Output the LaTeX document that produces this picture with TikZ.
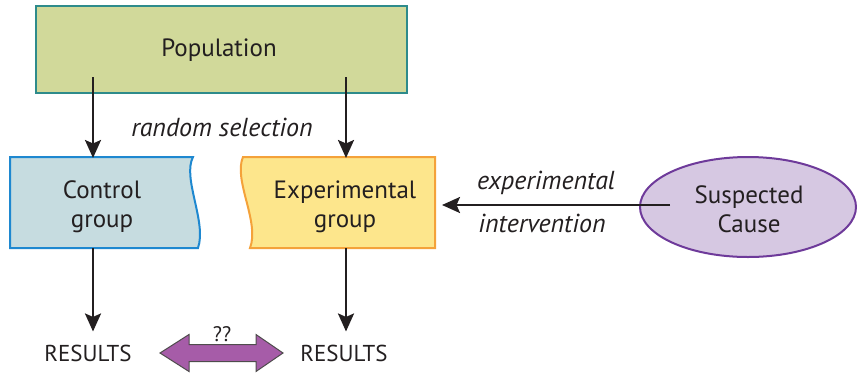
\documentclass[tikz,border=0pt]{standalone}
\usepackage{fontspec}
\setmainfont{PT Sans}
\usetikzlibrary{arrows.meta,shapes.geometric,calc}

\definecolor{popfill}{HTML}{D1D99A}
\definecolor{popline}{HTML}{2E8B8B}
\definecolor{ctrlfill}{HTML}{C6DCE0}
\definecolor{ctrlline}{HTML}{1E88D0}
\definecolor{expfill}{HTML}{FDE68C}
\definecolor{expline}{HTML}{F4A23A}
\definecolor{causefill}{HTML}{D6C8E2}
\definecolor{causeline}{HTML}{6E3A9A}
\definecolor{linkfill}{HTML}{A65CA8}
\definecolor{ink}{HTML}{231F20}

\tikzset{
  label text/.style={font=\fontsize{25}{29}\selectfont, text=ink, inner sep=0pt, align=center},
  note text/.style={font=\fontsize{26}{30}\selectfont\itshape, text=ink, inner sep=0pt},
  result text/.style={font=\fontsize{23}{27}\selectfont, text=ink, inner sep=0pt},
  flow/.style={draw=ink, line width=2.5pt, -{Stealth[length=18pt,width=16pt,inset=3.5pt]}},
}

\begin{document}
\begin{tikzpicture}[x=1pt,y=-1pt]
\useasboundingbox (0,0) rectangle (857,373);

% population box
\node[draw=popline, fill=popfill, line width=2pt, minimum width=371pt, minimum height=87pt,
      inner sep=0pt] (pop) at (221.5,49.5) {};
\node[label text] (poptext) at (219,50) {Population};

% control group, wavy right edge
\path[draw=ctrlline, fill=ctrlfill, line width=2pt]
  (10,157) -- (193,157) .. controls (182,178) and (207,222) .. (198,248) -- (10,248) -- cycle;
\node[label text] (ctrl) at (102,207) {Control\\group};

% experimental group, wavy left edge
\path[draw=expline, fill=expfill, line width=2pt]
  (243,157) -- (435,157) -- (435,248) -- (250,248) .. controls (260,222) and (233,180) .. (243,157) -- cycle;
\node[label text] (exp) at (345,207) {Experimental\\group};

% suspected cause
\node[ellipse, draw=causeline, fill=causefill, line width=2pt, minimum width=216pt,
      minimum height=100pt, inner sep=0pt] (cause) at (748,207) {};
\node[label text] (causetext) at (749,209) {Suspected\\Cause};

% results
\node[result text] (r1) at (88,353) {RESULTS};
\node[result text] (r2) at (344,353) {RESULTS};

% anchors for the vertical and horizontal connectors
\coordinate (cx) at (93,0);
\coordinate (ex) at (346,0);
\coordinate (ctrltop) at (93,158);
\coordinate (ctrlbot) at (93,248);
\coordinate (exptop) at (346,158);
\coordinate (expbot) at (346,248);
\coordinate (expright) at (442,205);
\coordinate (causeleft) at (670,205);

% selection arrows
\draw[flow] ([yshift=17pt]pop.south -| cx) -- (ctrltop);
\draw[flow] ([yshift=17pt]pop.south -| ex) -- (exptop);
\node[note text] (sel) at (222,127) {random selection};

% results arrows
\draw[flow] (ctrlbot) -- ([yshift=13pt]r1.north -| cx);
\draw[flow] (expbot) -- ([yshift=13pt]r2.north -| ex);

% intervention arrow
\draw[flow] (causeleft) -- (expright);
\node[note text] (int1) at (546,183) {experimental};
\node[note text] (int2) at (542,223) {intervention};

% comparison double arrow
\coordinate (dl) at (160,353);
\coordinate (dr) at (283,353);
\path[draw=ink!80, fill=linkfill, line width=1pt, line join=miter]
  (dl) -- ($(dl)+(29,-18.5)$) -- ($(dl)+(29,-8.5)$) -- ($(dr)+(-27,-8.5)$) -- ($(dr)+(-27,-18.5)$)
  -- (dr) -- ($(dr)+(-27,18.5)$) -- ($(dr)+(-27,8.5)$) -- ($(dl)+(29,8.5)$) -- ($(dl)+(29,18.5)$) -- cycle;
\node[font=\fontsize{21}{24}\selectfont, text=ink, inner sep=0pt] (qq) at (222,334) {??};
\end{tikzpicture}
\end{document}
